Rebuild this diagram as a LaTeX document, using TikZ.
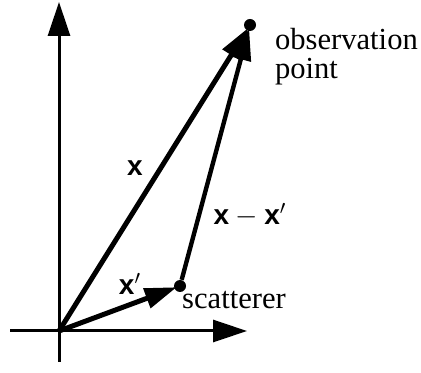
\documentclass[tikz,border=0pt]{standalone}
\usepackage{fontspec}
\setmainfont{Liberation Serif}
\setsansfont{Liberation Sans}
\usetikzlibrary{arrows.meta}
\newcommand{\bx}{{\sffamily\bfseries x}}
\tikzset{
  axis/.style={line width=1.5pt, -{Triangle[length=17pt,width=11pt]}},
  vec/.style={line width=2.5pt, -{Triangle[length=16pt,width=10pt]}, shorten >=-1.5pt},
  dot/.style={circle, fill=black, inner sep=0pt, minimum size=6pt},
  lbl/.style={font=\fontsize{14}{16}\selectfont},
  txt/.style={font=\fontsize{15.3}{14.5}\selectfont, align=left}
}
\begin{document}
\begin{tikzpicture}[x=0.5pt,y=0.5pt]
    \useasboundingbox (0,0) rectangle (421,373);

    % axes
    \coordinate (O) at (59,42);
    \coordinate (ybot) at (59,11);
    \coordinate (ytop) at (59,371);
    \coordinate (xleft) at (10,42);
    \coordinate (xright) at (247,42);
    \draw[line width=1.5pt] (ybot) -- (O);
    \draw[axis] (O) -- (ytop);
    \draw[line width=1.5pt] (xleft) -- (O);
    \draw[axis] (O) -- (xright);

    % points
    \node[dot] (obs) at (250,348) {};
    \node[dot] (scat) at (180,87) {};

    % vectors
    \draw[vec] (O) -- (obs);
    \draw[vec] (O) -- (scat);
    \draw[vec, line width=2.2pt] (scat) -- (obs);

    % labels
    \node[lbl] (lx) at (135,205) {\bx};
    \node[lbl] (lxx) at (250,158) {\bx${}-{}$\bx$'$};
    \node[lbl] (lxp) at (130,89) {\bx$'$};
    \node[txt, anchor=west] (lobs) at (268,316) {observation\\point};
    \node[txt] (lscat) at (234,73) {scatterer};
\end{tikzpicture}
\end{document}
